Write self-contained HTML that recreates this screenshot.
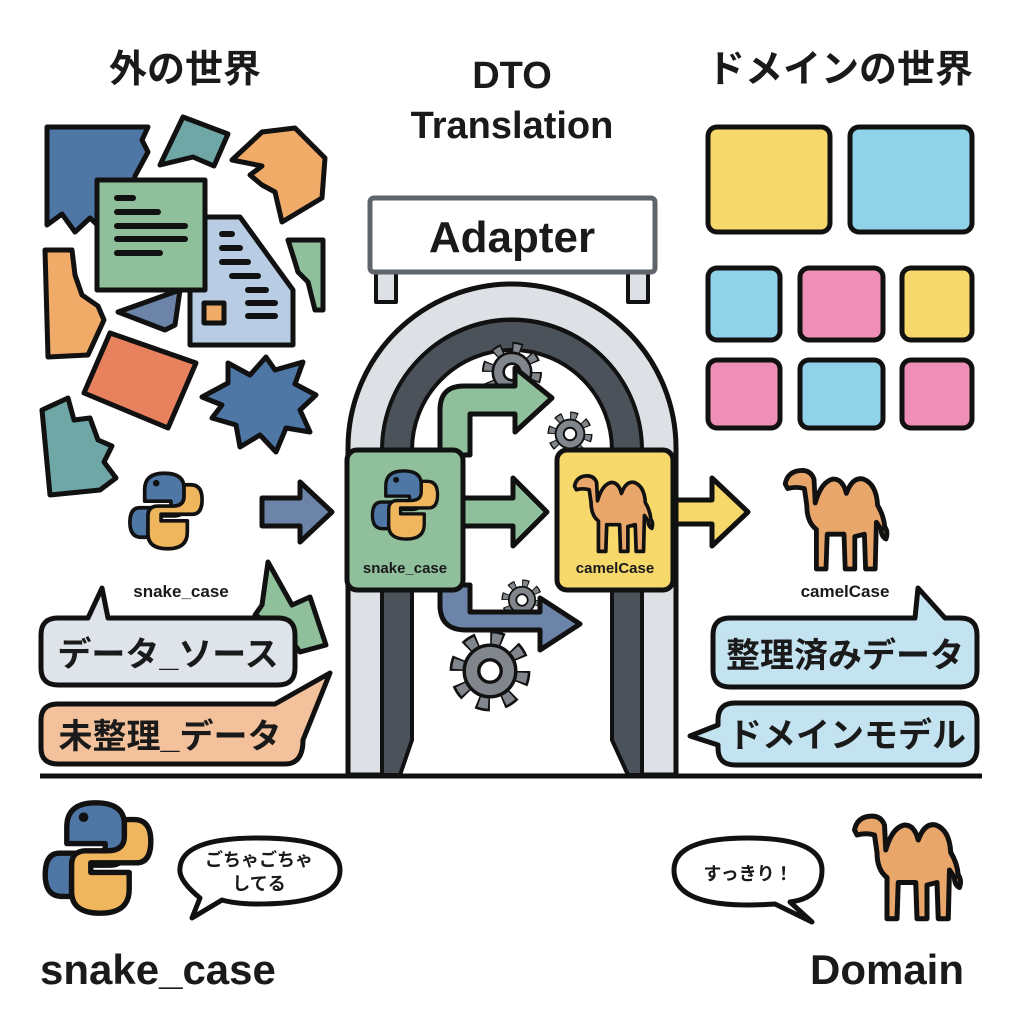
<!DOCTYPE html>
<html><head><meta charset="utf-8"><style>
html,body{margin:0;padding:0;background:#fff}
svg{display:block}
text{font-family:"Liberation Sans","Noto Sans CJK JP",sans-serif;font-weight:bold;fill:#1a1a1a}
</style></head><body>
<svg width="1024" height="1024" viewBox="0 0 1024 1024" xmlns="http://www.w3.org/2000/svg">
<defs>
<symbol id="camel" viewBox="0 0 100 100">
<path d="M6,24 Q8,14 18,13 Q27,12 30,20 L31,40 Q36,22 46,20 Q54,20 57,32 Q62,18 71,20 Q82,24 83,42 Q88,50 89,60 Q92,64 90,70 Q86,68 86,62 L82,56 L81,95 L73,95 L72,66 L64,68 L64,95 L56,95 L55,66 L41,66 L40,95 L32,95 L32,62 Q24,56 24,42 L22,28 Q15,26 8,28 Z" fill="#e8a66a" stroke="#111" stroke-width="4" stroke-linejoin="round"/>
</symbol>
<symbol id="py" viewBox="0 0 100 100">
<path d="M48,4 Q24,4 24,24 L24,38 L56,38 L56,46 L18,46 Q6,46 6,64 Q6,82 20,82 L28,82 L28,68 Q28,56 42,56 L60,56 Q72,56 72,44 L72,22 Q72,4 48,4 Z" fill="#4f77a6" stroke="#111" stroke-width="4.5" stroke-linejoin="round"/>
<path d="M52,96 Q76,96 76,76 L76,62 L44,62 L44,54 L82,54 Q94,54 94,36 Q94,18 80,18 L72,18 L72,32 Q72,44 58,44 L40,44 Q28,44 28,56 L28,78 Q28,96 52,96 Z" fill="#efb65e" stroke="#111" stroke-width="4.5" stroke-linejoin="round"/>
<circle cx="38" cy="16" r="4" fill="#111"/>
</symbol>
<symbol id="gear" viewBox="0 0 100 100">
<circle cx="50" cy="50" r="36" fill="none" stroke="#111" stroke-width="22" stroke-dasharray="14 14.27"/>
<circle cx="50" cy="50" r="36" fill="none" stroke="#80868c" stroke-width="16" stroke-dasharray="10 18.27" stroke-dashoffset="-2"/>
<circle cx="50" cy="50" r="30" fill="#80868c" stroke="#111" stroke-width="4"/>
<circle cx="50" cy="50" r="13" fill="#fff" stroke="#111" stroke-width="4"/>
</symbol>
</defs>

<text x="185" y="82" font-size="38" text-anchor="middle">外の世界</text>
<text x="512" y="88" font-size="38" text-anchor="middle">DTO</text>
<text x="512" y="138" font-size="38" text-anchor="middle">Translation</text>
<text x="840" y="82" font-size="38" text-anchor="middle">ドメインの世界</text>

<g stroke="#111" stroke-width="5" stroke-linejoin="round">
<polygon points="47,127 148,127 142,140 148,152 135,176 130,215 105,232 90,218 75,232 62,214 47,225" fill="#4f77a6"/>
<polygon points="183,117 228,134 214,166 193,157 160,165" fill="#6fa6a6"/>
<polygon points="262,132 295,128 325,158 322,198 282,222 275,192 262,185 250,175 262,166 232,160" fill="#efab67"/>
<polygon points="45,250 72,250 75,275 82,295 98,306 104,320 88,355 48,357" fill="#efab67"/>
<polygon points="288,240 323,240 323,310 315,310 308,282 298,272 295,262" fill="#8fbf9b"/>
<polygon points="118,312 180,290 175,325 165,330" fill="#6b84a8"/>
<polygon points="190,217 240,217 293,290 293,345 190,345" fill="#b8cce3"/>
<g stroke-width="6" stroke-linecap="round">
<line x1="222" y1="234" x2="232" y2="234"/><line x1="222" y1="248" x2="240" y2="248"/><line x1="222" y1="262" x2="248" y2="262"/><line x1="232" y1="276" x2="258" y2="276"/><line x1="248" y1="290" x2="266" y2="290"/><line x1="248" y1="303" x2="275" y2="303"/><line x1="248" y1="316" x2="275" y2="316"/>
</g>
<rect x="204" y="303" width="20" height="20" fill="#efab67"/>
<rect x="97" y="180" width="108" height="110" fill="#8fbf9b"/>
<g stroke-width="6" stroke-linecap="round">
<line x1="117" y1="198" x2="133" y2="198"/><line x1="117" y1="212" x2="158" y2="212"/><line x1="117" y1="226" x2="185" y2="226"/><line x1="117" y1="239" x2="185" y2="239"/><line x1="117" y1="253" x2="160" y2="253"/>
</g>
<polygon points="110,333 196,363 168,428 84,393" fill="#e8825e"/>
<polygon points="202,397 228,383 228,363 250,375 266,357 275,370 303,362 295,384 316,395 300,410 310,432 286,428 276,452 260,435 240,447 236,425 212,418 222,405" fill="#4f77a6"/>
<polygon points="42,410 68,398 74,420 90,418 98,440 112,446 104,462 116,478 100,490 50,495" fill="#6fa6a6"/>
<polygon points="268,562 292,605 310,597 326,645 300,652 285,632 255,615 262,605" fill="#8fbf9b"/>
</g>

<use href="#py" x="125" y="455" width="82" height="112"/>
<text x="181" y="597" font-size="17" text-anchor="middle">snake_case</text>
<polygon points="262,498 300,498 300,482 332,512 300,542 300,526 262,526" fill="#6b84a8" stroke="#111" stroke-width="5" stroke-linejoin="round"/>

<path d="M58,618 L88,618 L102,588 L108,618 L278,618 Q295,618 295,635 L295,668 Q295,685 278,685 L58,685 Q41,685 41,668 L41,635 Q41,618 58,618 Z" fill="#dfe3ea" stroke="#111" stroke-width="5" stroke-linejoin="round"/>
<text x="168" y="666" font-size="34" text-anchor="middle">データ_ソース</text>
<path d="M58,704 L275,704 L330,673 L303,740 Q303,764 285,764 L58,764 Q41,764 41,748 L41,720 Q41,704 58,704 Z" fill="#f3c29c" stroke="#111" stroke-width="5" stroke-linejoin="round"/>
<text x="170" y="748" font-size="34" text-anchor="middle">未整理_データ</text>

<g stroke-linejoin="round">
<rect x="376" y="262" width="20" height="40" fill="#dde1e6" stroke="#111" stroke-width="4"/>
<rect x="628" y="262" width="20" height="40" fill="#dde1e6" stroke="#111" stroke-width="4"/>
<path d="M348,775 L348,448 A164,164 0 0 1 676,448 L676,775 L640,775 L640,448 A128,128 0 0 0 384,448 L384,775 Z" fill="#dde1e6" stroke="#111" stroke-width="5"/>
<path d="M382,775 L382,450 A130,130 0 0 1 642,450 L642,775 L628,775 L612,740 L612,450 A100,100 0 0 0 412,450 L412,740 L400,775 Z" fill="#4b5259" stroke="#111" stroke-width="4"/>
</g>
<rect x="370" y="198" width="285" height="74" rx="4" fill="#fff" stroke="#5f656b" stroke-width="5"/>
<text x="512" y="252" font-size="44" text-anchor="middle">Adapter</text>

<use href="#gear" x="480" y="340" width="64" height="64"/>
<use href="#gear" x="546" y="410" width="48" height="48"/>
<use href="#gear" x="500" y="578" width="44" height="44"/>
<use href="#gear" x="447" y="628" width="86" height="86"/>

<path d="M440,455 L440,410 Q440,386 464,386 L515,386 L515,368 L552,398 L515,432 L515,414 L470,414 L470,455 Z" fill="#8fbf9b" stroke="#111" stroke-width="5" stroke-linejoin="round"/>
<path d="M440,585 L440,605 Q440,630 466,630 L540,630 L540,650 L580,624 L540,598 L540,612 L470,612 L470,585 Z" fill="#6b84a8" stroke="#111" stroke-width="5" stroke-linejoin="round"/>
<polygon points="460,498 513,498 513,478 547,512 513,546 513,526 460,526" fill="#8fbf9b" stroke="#111" stroke-width="5" stroke-linejoin="round"/>

<rect x="347" y="450" width="116" height="140" rx="10" fill="#8fbf9b" stroke="#111" stroke-width="5"/>
<use href="#py" x="368" y="460" width="74" height="90"/>
<text x="405" y="573" font-size="15" text-anchor="middle">snake_case</text>
<rect x="557" y="450" width="116" height="140" rx="10" fill="#f7d86a" stroke="#111" stroke-width="5"/>
<use href="#camel" x="568" y="464" width="94" height="92"/>
<text x="615" y="573" font-size="15" text-anchor="middle">camelCase</text>
<polygon points="676,500 712,500 712,478 748,512 712,546 712,524 676,524" fill="#f7d86a" stroke="#111" stroke-width="5" stroke-linejoin="round"/>

<g stroke="#111" stroke-width="5">
<rect x="708" y="127" width="122" height="105" rx="9" fill="#f7d86a"/>
<rect x="850" y="127" width="122" height="105" rx="9" fill="#8fd3e8"/>
<rect x="708" y="268" width="72" height="72" rx="9" fill="#8fd3e8"/>
<rect x="800" y="268" width="83" height="72" rx="9" fill="#ef8fb8"/>
<rect x="902" y="268" width="70" height="72" rx="9" fill="#f7d86a"/>
<rect x="708" y="360" width="72" height="68" rx="9" fill="#ef8fb8"/>
<rect x="800" y="360" width="83" height="68" rx="9" fill="#8fd3e8"/>
<rect x="902" y="360" width="70" height="68" rx="9" fill="#ef8fb8"/>
</g>

<use href="#camel" x="768" y="455" width="140" height="120"/>
<text x="845" y="597" font-size="17" text-anchor="middle">camelCase</text>
<path d="M730,618 L915,618 L918,588 L945,618 L960,618 Q977,618 977,635 L977,670 Q977,687 960,687 L730,687 Q713,687 713,670 L713,635 Q713,618 730,618 Z" fill="#c4e3f0" stroke="#111" stroke-width="5" stroke-linejoin="round"/>
<text x="845" y="667" font-size="34" text-anchor="middle">整理済みデータ</text>
<path d="M735,703 L960,703 Q977,703 977,720 L977,748 Q977,765 960,765 L735,765 Q718,765 718,748 L718,745 L690,736 L718,725 L718,720 Q718,703 735,703 Z" fill="#c4e3f0" stroke="#111" stroke-width="5" stroke-linejoin="round"/>
<text x="847" y="747" font-size="34" text-anchor="middle">ドメインモデル</text>

<line x1="40" y1="776" x2="982" y2="776" stroke="#111" stroke-width="5"/>

<use href="#py" x="38" y="798" width="120" height="120"/>
<path d="M200,898 Q178,880 180,868 Q182,838 258,838 Q340,838 340,870 Q340,904 258,904 Q236,904 222,900 L192,918 Z" fill="#fff" stroke="#111" stroke-width="5" stroke-linejoin="round"/>
<text x="259" y="866" font-size="18" text-anchor="middle">ごちゃごちゃ</text>
<text x="259" y="890" font-size="18" text-anchor="middle">してる</text>
<text x="40" y="984" font-size="42">snake_case</text>
<path d="M748,838 Q822,838 822,870 Q822,898 790,902 L812,922 L775,904 Q760,905 748,905 Q674,905 674,870 Q674,838 748,838 Z" fill="#fff" stroke="#111" stroke-width="5" stroke-linejoin="round"/>
<text x="748" y="880" font-size="18" text-anchor="middle">すっきり！</text>
<use href="#camel" x="832" y="800" width="155" height="125"/>
<text x="887" y="984" font-size="42" text-anchor="middle">Domain</text>
</svg>
</body></html>
